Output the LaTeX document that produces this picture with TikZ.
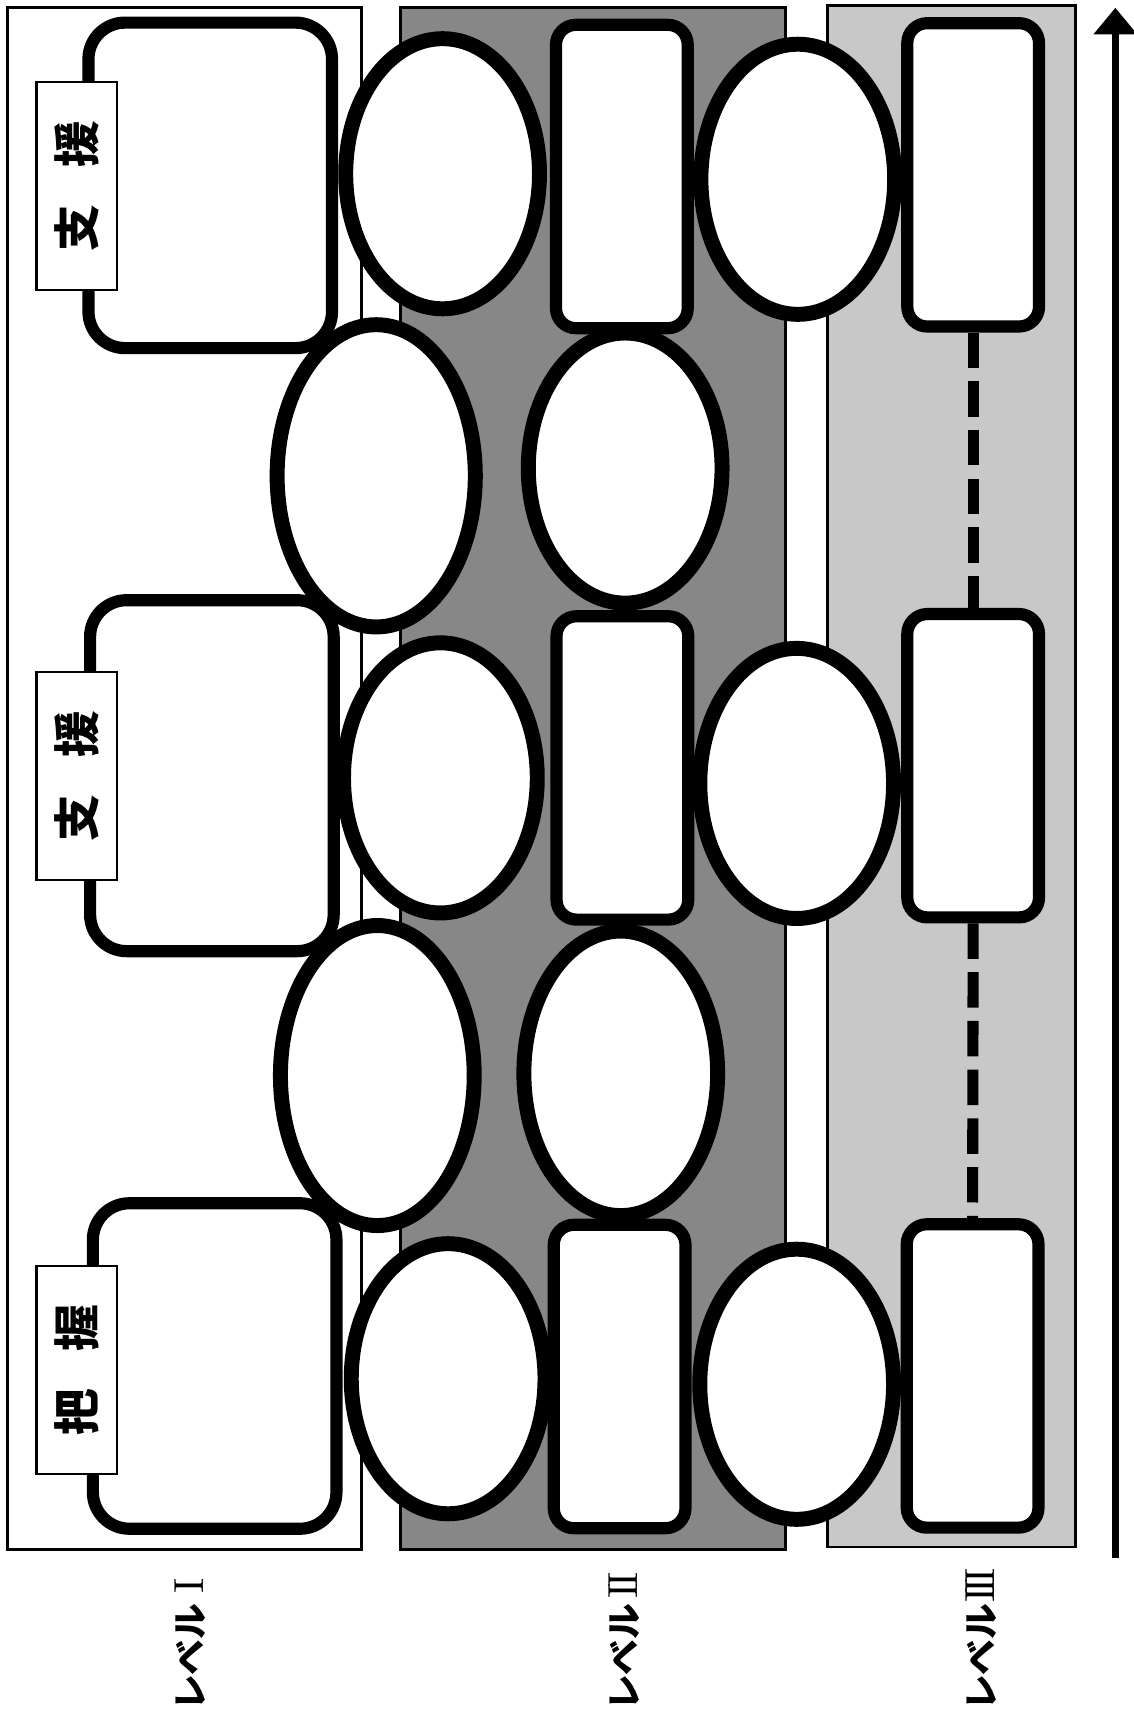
\documentclass[tikz,border=0pt]{standalone}
\usepackage{fontspec}
\newfontfamily\jpfont{Noto Sans CJK JP}
\usepackage{tikz}
\usetikzlibrary{arrows.meta,shapes.geometric}
\definecolor{lvtwo}{RGB}{135,135,135}
\definecolor{lvthree}{RGB}{200,200,200}
\newcommand{\rnum}[1]{\makebox[1em]{\rmfamily\mdseries\fontsize{10.8}{12}\selectfont #1}}
\tikzset{
  panel/.style={draw, line width=0.025cm},
  oval/.style={ellipse, draw, fill=white, line width=0.135cm, inner sep=0pt,
      minimum width=1.75cm, minimum height=2.44cm},
  bigbox/.style={rectangle, draw, fill=white, line width=0.11cm, inner sep=0pt,
      rounded corners=0.33cm, minimum width=2.2cm, minimum height=2.94cm},
  slot/.style={rectangle, draw, fill=white, line width=0.11cm, inner sep=0pt,
      rounded corners=0.18cm, minimum width=1.19cm, minimum height=2.74cm},
  tag/.style={rectangle, draw, fill=white, line width=0.02cm, inner sep=0pt,
      rotate=90, minimum width=1.88cm, minimum height=0.73cm,
      font=\jpfont\bfseries\fontsize{12}{14}\selectfont},
  lvl/.style={rotate=90, inner sep=0pt, anchor=east,
      font=\jpfont\bfseries\fontsize{9.2}{11}\selectfont},
  link/.style={line width=0.10cm, dash pattern=on 0.32cm off 0.12cm},
  upar/.style={-{Triangle[length=0.24cm, width=0.38cm]}, line width=0.06cm},
}

\begin{document}
\begin{tikzpicture}[x=0.01cm, y=-0.01cm]
\useasboundingbox (0,0) rectangle (1024,1568);
\draw[panel, fill=white] (7,7) rectangle (327,1400);
\draw[panel, fill=lvtwo] (362,7) rectangle (710,1400);
\draw[panel, fill=lvthree] (748,5) rectangle (972,1398);

\node[bigbox] (ba) at (190,167.5) {};
\node[bigbox, minimum height=3.17cm] (bb) at (191.5,701) {};
\node[bigbox] (bc) at (194,1234.5) {};
\node[tag] (ta) at (69.5,168) {支\hspace{0.8em}援};
\node[tag] (tb) at (69.5,701) {支\hspace{0.8em}援};
\node[tag] (tc) at (69.5,1238) {把\hspace{0.8em}握};

\node[slot] (s1) at (562,159.5) {};
\node[slot] (s2) at (562.5,694) {};
\node[slot] (s3) at (560,1244) {};
\node[slot] (s4) at (879.5,158) {};
\node[slot] (s5) at (879.5,692) {};
\node[slot] (s6) at (879,1243.5) {};
\draw[link] (s4.south) -- (s5.north);
\draw[link] (s5.south) -- (s6.north);

\node[oval] (e1) at (400,157) {};
\node[oval, minimum width=1.79cm, minimum height=2.73cm] (e2) at (340,430) {};
\node[oval] (e3) at (398,703) {};
\node[oval, minimum height=2.71cm] (e4) at (341,972) {};
\node[oval] (e5) at (405,1246) {};
\node[oval] (e6) at (565,423) {};
\node[oval, minimum height=2.57cm] (e7) at (561,970) {};
\node[oval] (e8) at (721,162) {};
\node[oval] (e9) at (720,708) {};
\node[oval] (e10) at (720,1251) {};

\coordinate (lo) at (1008,1408);
\coordinate (hi) at (1008,7);
\draw[upar] (lo) -- (hi);

\node[lvl] (l1) at (172,1416) {レベル\rnum{I}};
\node[lvl] (l2) at (564,1416) {レベル\rnum{I\kern-.12em I}};
\node[lvl] (l3) at (887,1416) {レベル\rnum{I\kern-.14em I\kern-.14em I}};
\end{tikzpicture}
\end{document}
